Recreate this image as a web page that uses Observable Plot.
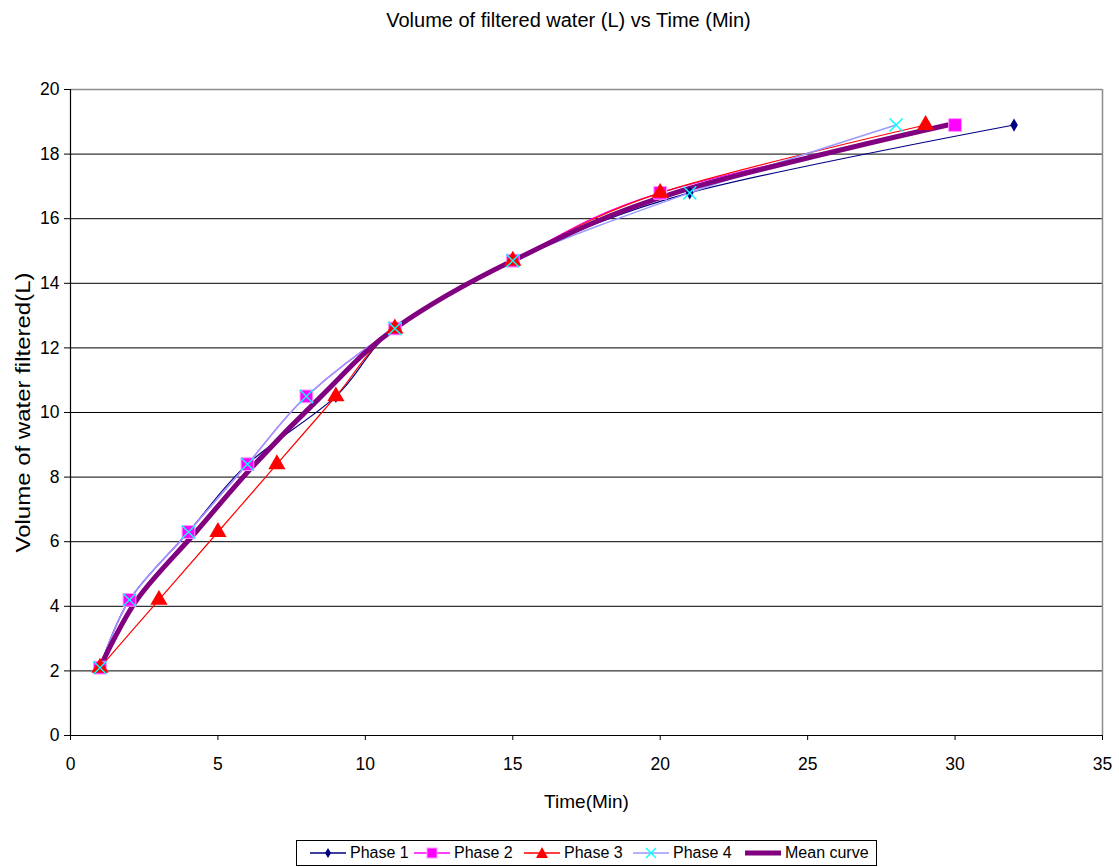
<!DOCTYPE html>
<html>
<head>
<meta charset="utf-8">
<script src="https://cdn.jsdelivr.net/npm/d3@7"></script>
<script src="https://cdn.jsdelivr.net/npm/@observablehq/plot@0.6"></script>
<style>
  body { margin: 0; background: #fff; font-family: "Liberation Sans", Arial, sans-serif; }
  #wrap { position: relative; width: 1119px; height: 867px; overflow: hidden; background: #fff; }
  #title { position: absolute; left: 9px; top: 8px; width: 1119px; text-align: center; font-size: 20px; line-height: 24px; color: #000; }
  #chart { position: absolute; left: 0; top: 40px; }
  #legend { position: absolute; left: 296px; top: 840px; width: 579px; height: 24px; border: 1px solid #000; }
  .entry { position: absolute; top: 0; height: 24px; display: flex; align-items: center; font-size: 16px; color: #000; white-space: nowrap; }
  .entry svg { margin-right: 4px; }
</style>
</head>
<body>
<div id="wrap">
  <div id="title">Volume of filtered water (L) vs Time (Min)</div>
  <div id="chart"></div>
  <div id="legend"></div>
</div>
<script>
// ---- data ----
const volume = [2.1, 4.2, 6.3, 8.4, 10.5, 12.6, 14.7, 16.8, 18.9];
const phase1Time = [1, 2, 4, 6, 9, 11, 15, 21, 32];
const phase2Time = [1, 2, 4, 6, 8, 11, 15, 20, 30];
const phase3Time = [1, 3, 5, 7, 9, 11, 15, 20, 29];
const phase4Time = [1, 2, 4, 6, 8, 11, 15, 21, 28];
const meanTime = [1, 2.25, 4.25, 6.25, 8.5, 11, 15, 20.5, 29.75];
const seriesNames = ["Phase 1", "Phase 2", "Phase 3", "Phase 4", "Mean curve"];
const xTicks = [0, 5, 10, 15, 20, 25, 30, 35];
const yTicks = [0, 2, 4, 6, 8, 10, 12, 14, 16, 18, 20];

const toRows = (times) => times.map((t, i) => ({t, v: volume[i]}));
const p1 = toRows(phase1Time), p2 = toRows(phase2Time), p3 = toRows(phase3Time), p4 = toRows(phase4Time), pm = toRows(meanTime);

const lineOpts = {x: "t", y: "v", curve: "cardinal", tension: 0};

const chart = Plot.plot({
  width: 1119,
  height: 790,
  marginTop: 49,
  marginBottom: 95,
  marginLeft: 70,
  marginRight: 17,
  style: {fontFamily: "'Liberation Sans', Arial, sans-serif", fontSize: "17.5px", color: "#000", background: "transparent", overflow: "visible"},
  x: {domain: [0, 35]},
  y: {domain: [0, 20]},
  marks: [
    Plot.ruleY(yTicks.filter(d => d > 0 && d < 20), {stroke: "#000", strokeWidth: 1}),
    Plot.ruleY([20], {stroke: "#8c8c8c", strokeWidth: 1.5}),
    Plot.ruleX([35], {stroke: "#8c8c8c", strokeWidth: 1.5}),
    Plot.axisX({ticks: xTicks, tickSize: 5, tickPadding: 17, label: "Time(Min)", labelAnchor: "center", labelArrow: "none", labelOffset: 72, stroke: "#000"}),
    Plot.axisY({ticks: yTicks, tickSize: 6, tickPadding: 5, label: "Volume of water filtered(L)", labelAnchor: "center", labelArrow: "none", labelOffset: 55, stroke: "#000"}),
    Plot.ruleX([0], {stroke: "#000", strokeWidth: 1.2}),
    Plot.ruleY([0], {stroke: "#000", strokeWidth: 1.2}),
    // lines
    Plot.line(p1, {...lineOpts, stroke: "#000080", strokeWidth: 1.2}),
    Plot.line(p2, {...lineOpts, stroke: "#ff00ff", strokeWidth: 1.2}),
    Plot.line(p3, {...lineOpts, stroke: "#ff0000", strokeWidth: 1.2}),
    Plot.line(p4, {...lineOpts, stroke: "#9999ff", strokeWidth: 1.5}),
    Plot.line(pm, {...lineOpts, stroke: "#800080", strokeWidth: 5}),
    // markers
    Plot.dot(p1, {x: "t", y: "v", symbol: "diamond", r: 4, fill: "#000080"}),
    Plot.dot(p2, {x: "t", y: "v", symbol: "square", r: 7.2, fill: "#ff00ff", stroke: "#ff99ff", strokeWidth: 1}),
    Plot.dot(p3, {x: "t", y: "v", symbol: "triangle", r: 6.4, fill: "#ff0000"}),
    Plot.dot(p4, {x: "t", y: "v", symbol: "times", r: 6, stroke: "#00ffff", strokeWidth: 1.4})
  ]
});
document.getElementById("chart").appendChild(chart);

// label font tweaks
d3.select(chart).selectAll('g[aria-label="x-axis label"] text').style("font-size", "19px");
d3.select(chart).selectAll('g[aria-label="y-axis label"] text').style("font-size", "21px").attr("textLength", 280).attr("lengthAdjust", "spacingAndGlyphs");

// ---- legend ----
const legendX = [13, 117, 227, 336, 448];
const swatches = [
  `<line x1="0" y1="8" x2="36" y2="8" stroke="#000080" stroke-width="1.5"/><path d="M18,3 L21,8 L18,13 L15,8 Z" fill="#000080"/>`,
  `<line x1="0" y1="8" x2="36" y2="8" stroke="#ff00ff" stroke-width="1.5"/><rect x="13" y="3" width="10" height="10" fill="#ff00ff" stroke="#ff99ff"/>`,
  `<line x1="0" y1="8" x2="36" y2="8" stroke="#ff0000" stroke-width="1.5"/><path d="M18,2 L24,13 L12,13 Z" fill="#ff0000"/>`,
  `<line x1="0" y1="8" x2="36" y2="8" stroke="#9999ff" stroke-width="1.5"/><path d="M13,3 L23,13 M23,3 L13,13" stroke="#00ffff" stroke-width="1.4"/>`,
  `<line x1="0" y1="8" x2="36" y2="8" stroke="#800080" stroke-width="5"/>`
];
const legend = document.getElementById("legend");
seriesNames.forEach((name, i) => {
  const e = document.createElement("div");
  e.className = "entry";
  e.style.left = legendX[i] + "px";
  e.innerHTML = `<svg width="36" height="16">${swatches[i]}</svg><span>${name}</span>`;
  legend.appendChild(e);
});
</script>
</body>
</html>
